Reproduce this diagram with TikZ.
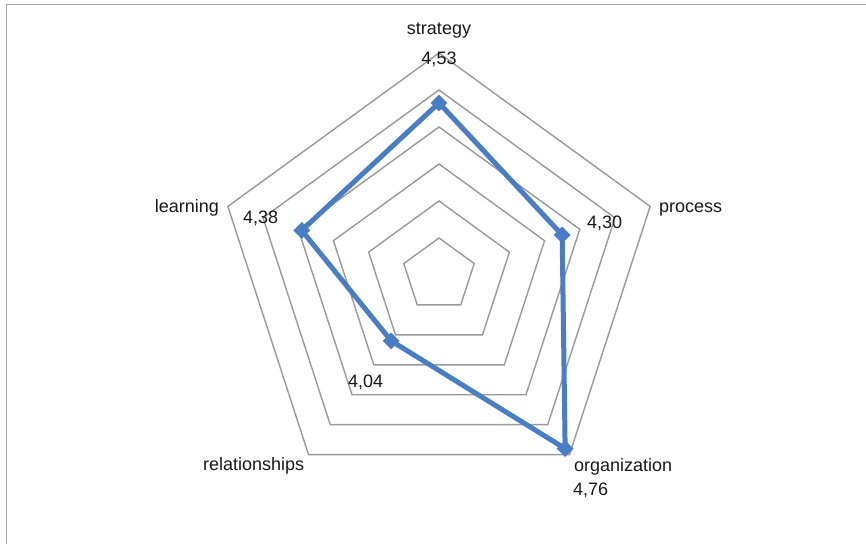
\documentclass[tikz,border=0pt]{standalone}
\usepackage{fontspec}
\setmainfont{Liberation Sans}
\usetikzlibrary{shapes.geometric}
\definecolor{gridgray}{HTML}{9A9A9A}
\definecolor{framegray}{HTML}{A6A6A6}
\definecolor{seriesblue}{HTML}{4A7EC4}
\tikzset{
  ring/.style={draw=gridgray, line width=1.4pt, line join=miter},
  series/.style={draw=seriesblue, line width=5pt, line join=round},
  marker/.style={diamond, fill=seriesblue, draw=none, minimum size=17pt, inner sep=0pt},
  lbl/.style={inner sep=0pt, font=\fontsize{18}{20}\selectfont, text=black!90},
  frameline/.style={draw=framegray, line width=1.6pt}
}
\begin{document}
\begin{tikzpicture}[x=1pt,y=1pt]
\useasboundingbox (0,0) rectangle (866,544);
\fill[white] (0,0) rectangle (866,544);
\draw[frameline] (6.5,0) -- (6.5,539.5) -- (866,539.5);
\begin{scope}[shift={(439,269)}]
  \foreach \k in {1,...,6}{
    \draw[ring] (90:37*\k) -- (18:37*\k) -- (-54:37*\k) -- (-126:37*\k) -- (162:37*\k) -- cycle;
  }
  \coordinate (s) at (90:172.05);
  \coordinate (p) at (18:129.5);
  \coordinate (o) at (-54:214.6);
  \coordinate (r) at (-126:81.4);
  \coordinate (l) at (162:144.3);
  \draw[series] (s) -- (p) -- (o) -- (r) -- (l) -- cycle;
  \node[marker] (ms) at (s) {};
  \node[marker] (mp) at (p) {};
  \node[marker] (mo) at (o) {};
  \node[marker] (mr) at (r) {};
  \node[marker] (ml) at (l) {};
\end{scope}
\node[lbl, anchor=base] (tstrategy) at (439,509) {strategy};
\node[lbl, anchor=base] (vstrategy) at (439,479) {4,53};
\node[lbl, anchor=base west] (tprocess) at (659,331) {process};
\node[lbl, anchor=base west] (vprocess) at (587,315) {4,30};
\node[lbl, anchor=base east] (tlearning) at (219,331) {learning};
\node[lbl, anchor=base west] (vlearning) at (243,320) {4,38};
\node[lbl, anchor=base west] (vrel) at (348,157) {4,04};
\node[lbl, anchor=base west] (trel) at (203,74) {relationships};
\node[lbl, anchor=base west] (torg) at (574,73) {organization};
\node[lbl, anchor=base west] (vorg) at (573,49) {4,76};
\end{tikzpicture}
\end{document}
